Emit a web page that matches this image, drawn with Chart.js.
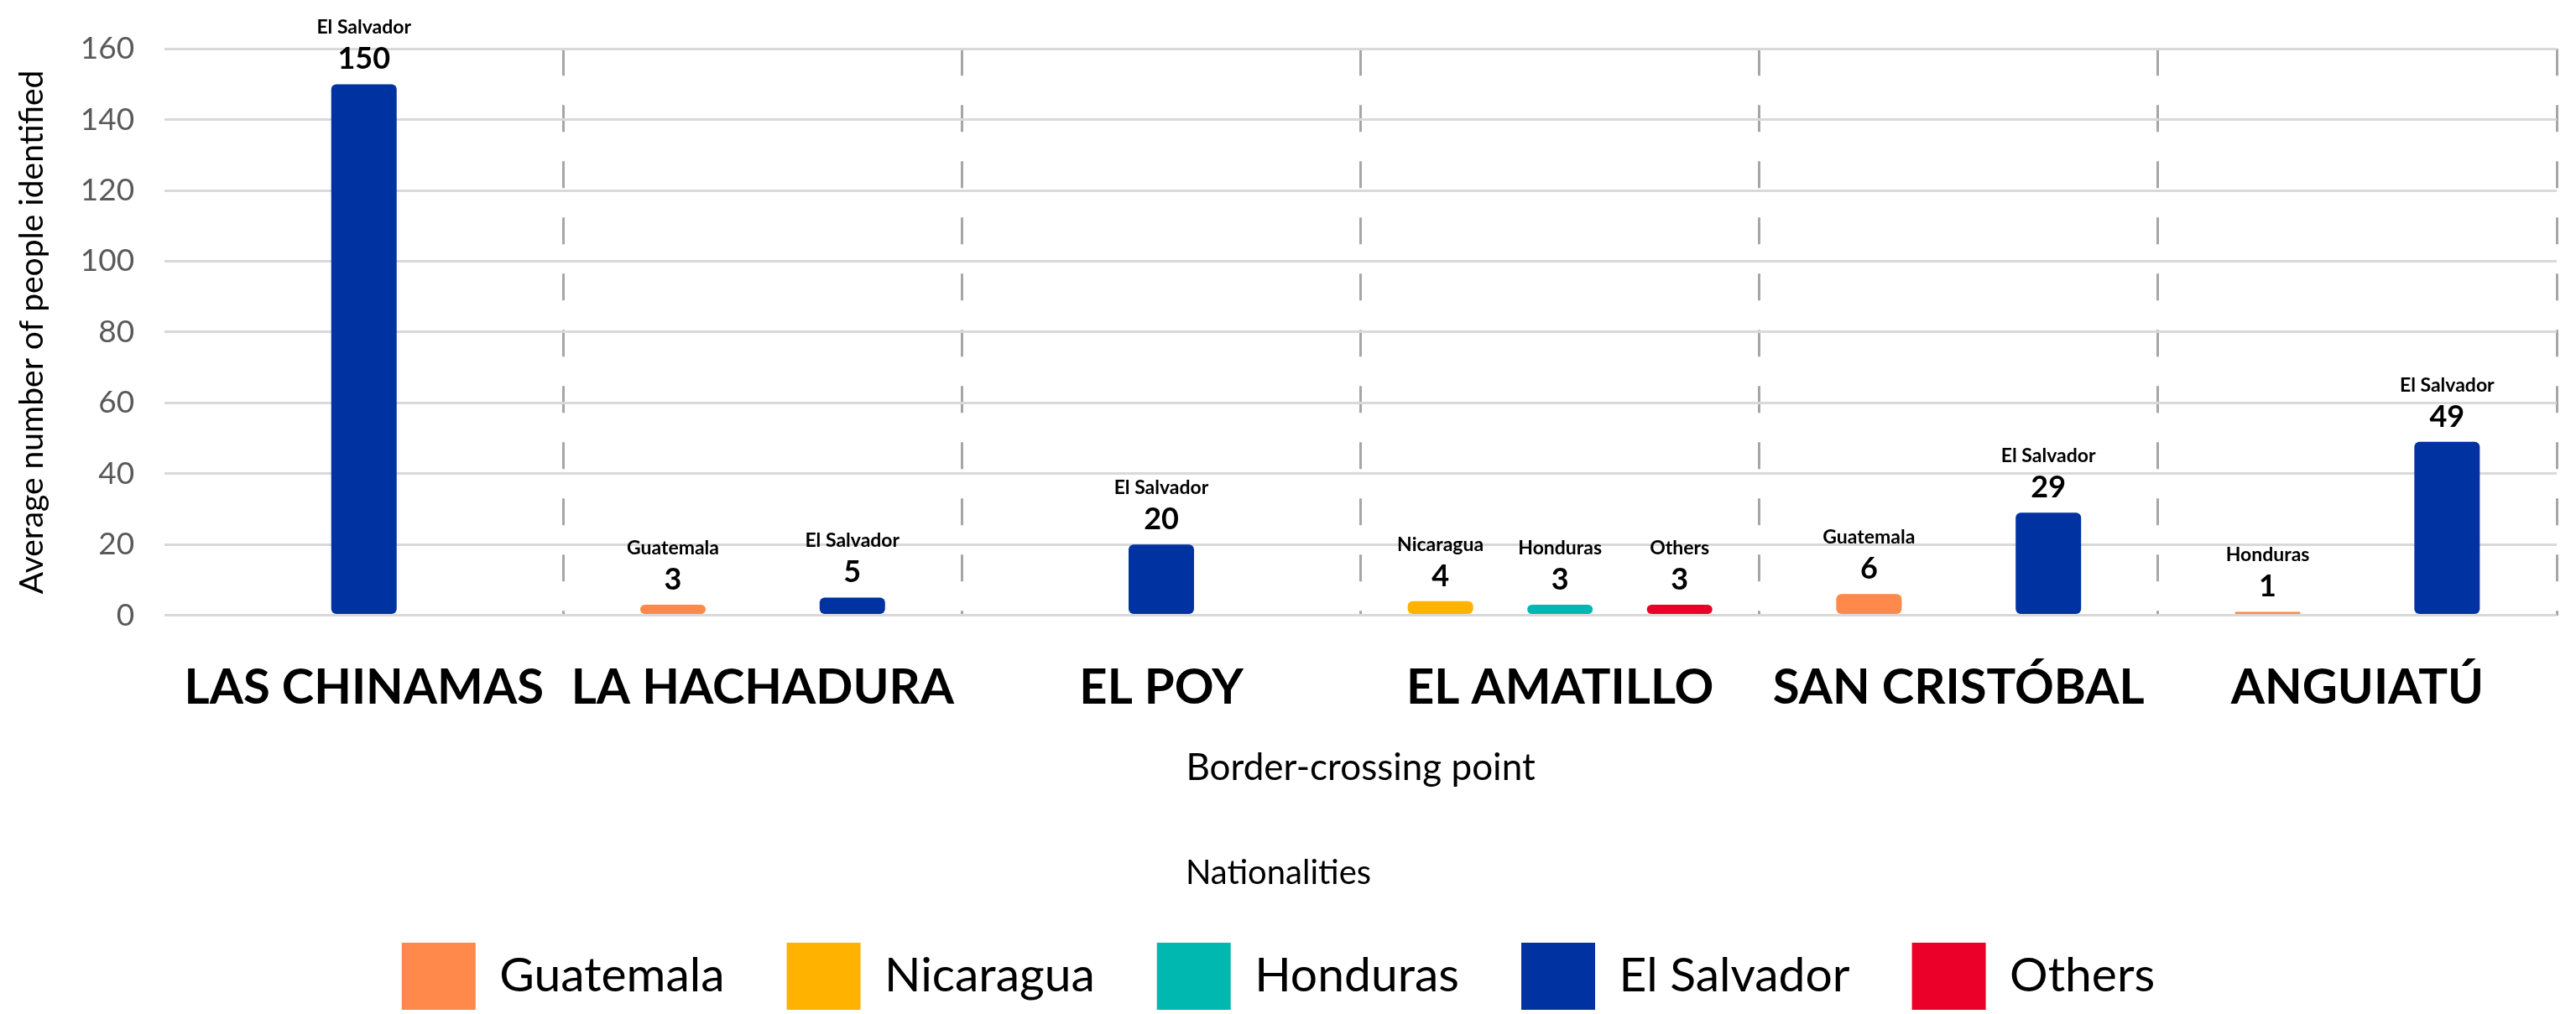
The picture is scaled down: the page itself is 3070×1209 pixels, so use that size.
<!DOCTYPE html>
<html>
<head>
<meta charset="utf-8">
<script src="https://cdn.jsdelivr.net/npm/chart.js"></script>
<style>
  body { margin: 0; background: #fff; }
  #wrap { width: 3070px; height: 1209px; position: relative; }
</style>
</head>
<body>
<div id="wrap"><canvas id="myChart"></canvas></div>
<script>
// datos
const borderPoints = ['LAS CHINAMAS', 'LA HACHADURA', 'EL POY', 'EL AMATILLO', 'SAN CRISTÓBAL', 'ANGUIATÚ'];
const nationalities = ['Guatemala', 'Nicaragua', 'Honduras', 'El Salvador', 'Others'];
const guatemala  = [null, 3, null, null, 6, null];
const nicaragua  = [null, null, null, 4, null, null];
const honduras   = [null, null, null, 3, null, 1];
const elSalvador = [150, 5, 20, null, 29, 49];
const others     = [null, null, null, 3, null, null];
const yTicks = [0, 20, 40, 60, 80, 100, 120, 140, 160];

const colors = {
    'Guatemala': '#FF884B',
    'Nicaragua': '#FFB200',
    'Honduras': '#00B8B0',
    'El Salvador': '#0033A1',
    'Others': '#EB0029'
};
const font = 'Lato';

const seriesValues = [guatemala, nicaragua, honduras, elSalvador, others];

const datasets = nationalities.map((name, i) => {
    let bg = colors[name];
    // en el original la barra de Honduras en Anguiatú sale naranja
    if (name === 'Honduras') {
        bg = seriesValues[i].map((v, j) => borderPoints[j] === 'ANGUIATÚ' ? colors['Guatemala'] : colors['Honduras']);
    }
    return {
        label: name,
        data: seriesValues[i],
        backgroundColor: bg,
        borderRadius: 6,
        borderSkipped: false,
        maxBarThickness: 78
    };
});

// etiquetas encima de cada barra: nacionalidad y valor
const barLabels = {
    id: 'barLabels',
    afterDatasetsDraw(chart) {
        const ctx = chart.ctx;
        ctx.save();
        ctx.fillStyle = '#000';
        ctx.textAlign = 'center';
        ctx.textBaseline = 'alphabetic';
        chart.data.datasets.forEach((ds, i) => {
            const meta = chart.getDatasetMeta(i);
            meta.data.forEach((bar, j) => {
                const v = ds.data[j];
                if (v === null || v === undefined) return;
                ctx.font = `bold 36px ${font}`;
                ctx.fillText(String(v), bar.x, bar.y - 18);
                ctx.font = `bold 23px ${font}`;
                ctx.fillText(ds.label, bar.x, bar.y - 60);
            });
        });
        ctx.restore();
    }
};

const lastTick = borderPoints.length;

new Chart(document.getElementById('myChart'), {
    type: 'bar',
    data: { labels: borderPoints, datasets: datasets },
    plugins: [barLabels],
    options: {
        responsive: true,
        maintainAspectRatio: false,
        animation: false,
        skipNull: true,
        categoryPercentage: 0.9,
        layout: { padding: { top: 58, right: 23, left: 0, bottom: -5 } },
        plugins: {
            tooltip: { enabled: false },
            legend: {
                position: 'bottom',
                title: {
                    display: true,
                    text: 'Nationalities',
                    color: '#000',
                    font: { family: font, size: 40 },
                    padding: { top: 39, bottom: -19 }
                },
                labels: {
                    boxWidth: 88,
                    boxHeight: 80,
                    padding: 74,
                    color: '#000',
                    font: { family: font, size: 57 }
                }
            }
        },
        scales: {
            x: {
                grid: {
                    offset: true,
                    drawTicks: false,
                    lineWidth: 3,
                    color: (c) => (c.index === 0 || c.index === lastTick) ? 'rgba(0,0,0,0)' : '#A6A6A6'
                },
                border: { display: false, dash: [32, 35] },
                ticks: {
                    color: '#000',
                    padding: 52,
                    font: { family: font, size: 58, weight: 'bold' }
                },
                title: {
                    display: true,
                    text: 'Border-crossing point',
                    color: '#000',
                    font: { family: font, size: 44 },
                    padding: { top: -18, bottom: 40 }
                }
            },
            y: {
                min: 0,
                max: 160,
                afterBuildTicks: (axis) => { axis.ticks = yTicks.map(v => ({ value: v })); },
                border: { display: false },
                grid: { color: '#D9D9D9', lineWidth: 3, drawTicks: false },
                ticks: {
                    color: '#595959',
                    padding: 36,
                    font: { family: font, size: 37 }
                },
                title: {
                    display: true,
                    text: 'Average number of people identified',
                    color: '#000',
                    font: { family: font, size: 39 },
                    padding: { top: 15, bottom: -2 }
                }
            }
        }
    }
});
</script>
</body>
</html>
